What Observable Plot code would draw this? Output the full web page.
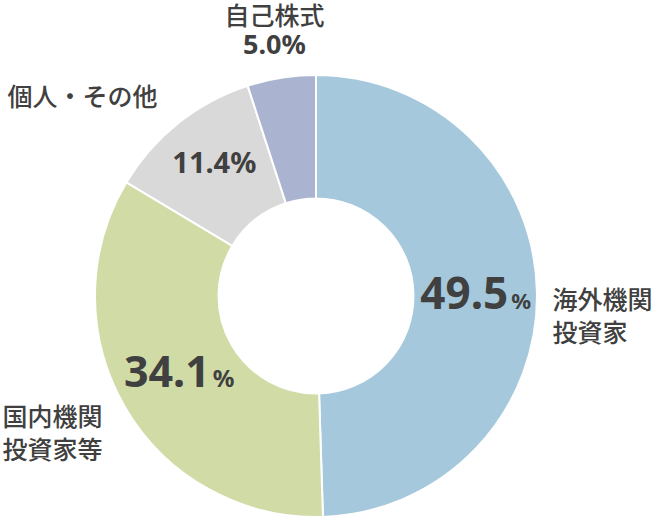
<!DOCTYPE html>
<html>
<head>
<meta charset="utf-8">
<script src="https://cdn.jsdelivr.net/npm/d3@7"></script>
<script src="https://cdn.jsdelivr.net/npm/@observablehq/plot@0.6"></script>
<style>
  html, body { margin: 0; padding: 0; background: #fff; }
  #chart svg { display: block; }
</style>
</head>
<body>
<div id="chart"></div>
<script>
// ---- data ----
const categories = ["海外機関\n投資家", "国内機関\n投資家等", "個人・その他", "自己株式"];
const values = [49.5, 34.1, 11.4, 5.0];
const colors = ["#a5c8dc", "#d0dba6", "#d9d9d9", "#aab4d0"];

// ---- layout (pixel units relative to donut centre) ----
const W = 657, H = 520, CX = 316, CY = 296;
const R_OUT = 221, R_IN = 97.5;
const catPos = [
  {x: 236, y: 18, anchor: "start"},
  {x: -314, y: 135, anchor: "start"},
  {x: -309, y: -201, anchor: "start"},
  {x: -42, y: -282, anchor: "middle"}
];
// percent label style per slice: big = number large with small "%"
const pctStyle = [
  {size: 44, small: 22, dx: 0, dy: 1},
  {size: 43, small: 24, dx: 0, dy: -4},
  {size: 29, small: null, dx: -3, dy: -8},
  {size: 27, small: null, outside: {x: -42, y: -251}}
];

const rows = categories.map((c, i) => ({category: c, value: values[i], color: colors[i], i}));
const pie = d3.pie().sort(null).value(d => d.value).startAngle(0).endAngle(2 * Math.PI);
const arcs = pie(rows);
const arcGen = d3.arc().innerRadius(R_IN).outerRadius(R_OUT);

const pctRows = arcs.map((a, i) => {
  const s = pctStyle[i];
  let x, y;
  if (s.outside) { x = s.outside.x; y = s.outside.y; }
  else { const c = arcGen.centroid(a); x = c[0] + s.dx; y = c[1] + s.dy; }
  return {x, y, value: a.data.value, size: s.size, small: s.small, i};
});

const textColor = "#404040";
const numFont = "'Noto Sans', 'Noto Sans CJK JP', sans-serif";
const cjkFont = "'Noto Sans CJK JP', sans-serif";

// donut render mark using Plot's scales
function donut(index, scales) {
  const sx = scales.x, sy = scales.y;
  const cx = sx(0), cy = sy(0);
  const k = sx(1) - sx(0);
  const g = d3.create("svg:g");
  const gen = d3.arc().innerRadius(R_IN * k).outerRadius(R_OUT * k);
  g.attr("transform", `translate(${cx},${cy})`);
  g.selectAll("path").data(arcs).join("path")
    .attr("d", gen)
    .attr("fill", d => d.data.color)
    .attr("stroke", "#fff")
    .attr("stroke-width", 2)
    .attr("stroke-linejoin", "round");
  return g.node();
}

const bigRows = pctRows.filter(d => d.small);
const plainRows = pctRows.filter(d => !d.small);

const catMark = (anchor) => Plot.text(rows.filter(d => catPos[d.i].anchor === anchor), {
  x: d => catPos[d.i].x, y: d => catPos[d.i].y,
  text: "category", textAnchor: anchor,
  lineAnchor: "middle", lineHeight: 1.32,
  fontSize: 25, fontFamily: cjkFont, fontWeight: 500, fill: textColor
});

const chart = Plot.plot({
  width: W,
  height: H,
  margin: 0,
  x: {domain: [-CX, W - CX], range: [0, W], axis: null},
  y: {domain: [-CY, H - CY], range: [0, H], axis: null},
  marks: [
    donut,
    catMark("start"),
    catMark("middle"),
    ...bigRows.map(d => Plot.text([d], {
      x: "x", y: "y", text: r => r.value.toFixed(1),
      textAnchor: "middle", lineAnchor: "middle",
      fontSize: d.size, fontFamily: numFont, fontWeight: 700, fill: textColor,
      className: "pct-big"
    })),
    ...plainRows.map(d => Plot.text([d], {
      x: "x", y: "y", text: r => r.value.toFixed(1) + "%",
      textAnchor: "middle", lineAnchor: "middle",
      fontSize: d.size, fontFamily: numFont, fontWeight: 700, fill: textColor
    }))
  ]
});

// append small "%" to the large percentage labels
d3.select(chart).selectAll(".pct-big text").each(function(_, j) {
  const d = bigRows[j];
  d3.select(this).append("tspan").attr("font-size", d.small).attr("dx", 3).text("%");
});

document.getElementById("chart").appendChild(chart);
</script>
</body>
</html>
